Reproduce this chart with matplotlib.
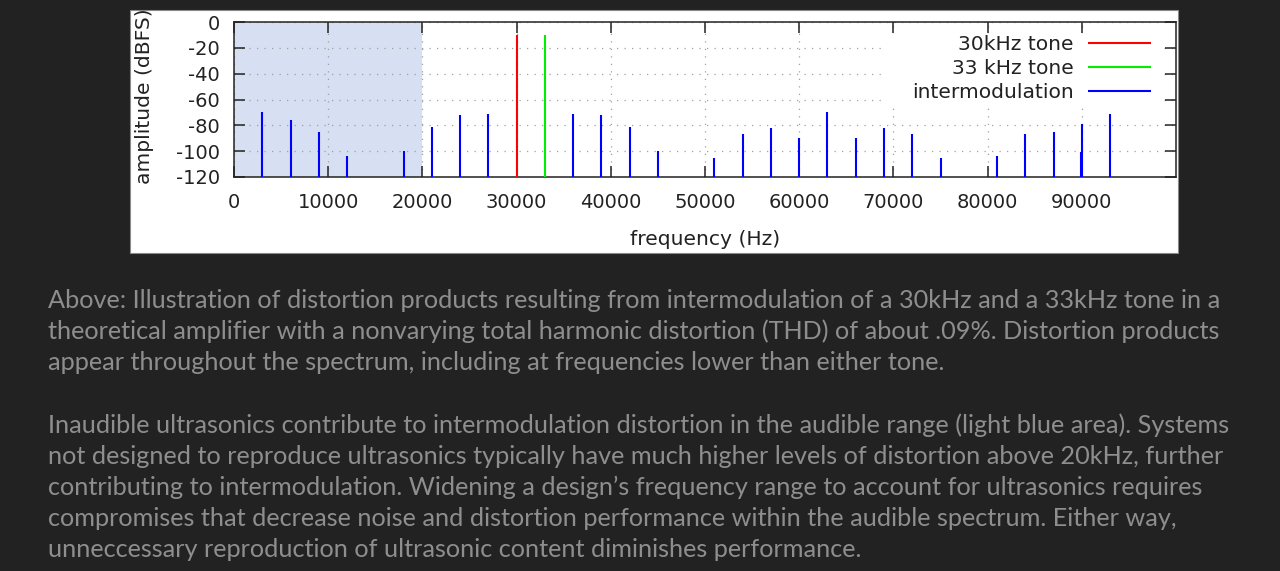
import matplotlib
matplotlib.use("Agg")
import matplotlib.pyplot as plt
from matplotlib.patches import Rectangle
from matplotlib.transforms import Bbox, TransformedBbox

# ---------------- data ----------------
tone1_freq = [30000]
tone1_level = [-10]
tone2_freq = [33000]
tone2_level = [-10]
im_freq = [3000, 6000, 9000, 12000, 18000, 21000, 24000, 27000, 36000, 39000,
           42000, 45000, 51000, 54000, 57000, 60000, 63000, 66000, 69000, 72000,
           75000, 81000, 84000, 87000, 89900, 90000, 93000]
im_level = [-70, -76, -85, -104, -100, -81, -72, -71, -71, -72,
            -81, -100, -105, -87, -82, -90, -70, -90, -82, -87,
            -105, -104, -87, -85, -101, -79, -71]
audible_range = [0, 20000]
x_ticks = [0, 10000, 20000, 30000, 40000, 50000, 60000, 70000, 80000, 90000]
y_ticks = [0, -20, -40, -60, -80, -100, -120]
series_labels = ["30kHz tone", "33 kHz tone", "intermodulation"]

para1 = [
    "Above: Illustration of distortion products resulting from intermodulation of a 30kHz and a 33kHz tone in a",
    "theoretical amplifier with a nonvarying total harmonic distortion (THD) of about .09%. Distortion products",
    "appear throughout the spectrum, including at frequencies lower than either tone.",
]
para2 = [
    "Inaudible ultrasonics contribute to intermodulation distortion in the audible range (light blue area). Systems",
    "not designed to reproduce ultrasonics typically have much higher levels of distortion above 20kHz, further",
    "contributing to intermodulation. Widening a design\u2019s frequency range to account for ultrasonics requires",
    "compromises that decrease noise and distortion performance within the audible spectrum. Either way,",
    "unneccessary reproduction of ultrasonic content diminishes performance.",
]

# ---------------- figure ----------------
W, H = 1280, 571
fig = plt.figure(figsize=(W / 100, H / 100), dpi=100, facecolor="#222222")

def fx(px):
    return px / W

def fy(py):
    return 1 - py / H

# white chart panel
panel_l, panel_t, panel_r, panel_b = 130, 10, 1178, 253
panel = Rectangle((fx(panel_l), fy(panel_b)), fx(panel_r - panel_l), (panel_b - panel_t) / H,
                  transform=fig.transFigure, facecolor="white", edgecolor="#8a8a8a",
                  linewidth=0.8, zorder=-1)
fig.patches.append(panel)

ax_l, ax_t, ax_r, ax_b = 234, 22, 1176, 177
ax = fig.add_axes([fx(ax_l), fy(ax_b), fx(ax_r - ax_l), (ax_b - ax_t) / H])
ax.set_zorder(1)
ax.set_facecolor("white")

ax.axvspan(audible_range[0], audible_range[1], color="#d6e0f2", zorder=0.5, lw=0)

lw = 1.5
ax.vlines(tone1_freq, -120, tone1_level, color="#ff0000", lw=lw, label=series_labels[0], zorder=3)
ax.vlines(tone2_freq, -120, tone2_level, color="#00ee00", lw=lw, label=series_labels[1], zorder=3)
ax.vlines(im_freq, -120, im_level, color="#0000ff", lw=lw, label=series_labels[2], zorder=3)

ax.set_xlim(0, 100000)
ax.set_ylim(-120, 0)
ax.set_xticks(x_ticks)
ax.set_yticks(y_ticks)
ax.set_xticklabels([str(v) for v in x_ticks])
ax.set_yticklabels([str(v) for v in y_ticks])

ax.grid(True, color="#a0a0a0", linestyle=(0, (1, 5)), linewidth=0.9)
ax.tick_params(direction="in", length=8, width=1.1, top=True, right=True,
               labelsize=14, labelcolor="#222222", color="#222222")
ax.tick_params(axis="x", pad=11.5)
ax.tick_params(axis="y", pad=10)
for s in ax.spines.values():
    s.set_color("#222222")
    s.set_linewidth(1.1)

ax.set_xlabel("frequency (Hz)", fontsize=14.6, color="#222222")
ax.xaxis.set_label_coords(0.5, -0.34)
ax.set_ylabel("amplitude (dBFS)", fontsize=14.6, color="#222222")
ax.yaxis.set_label_coords(-0.085, 0.519)
ax.yaxis.label.set_clip_box(TransformedBbox(
    Bbox([[fx(panel_l), fy(panel_b)], [fx(panel_r), fy(panel_t)]]), fig.transFigure))
ax.yaxis.label.set_clip_on(True)

# white background behind legend (hides grid like the original)
ax.add_patch(Rectangle((0.690, 0.477), 0.985 - 0.690, 0.9226 - 0.477, transform=ax.transAxes,
                       facecolor="white", edgecolor="none", zorder=2.6))

leg = ax.legend(loc="upper right", bbox_to_anchor=(0.9735, 0.915), borderaxespad=0,
                borderpad=0, frameon=False, markerfirst=False, fontsize=14.6,
                handlelength=3.1, handletextpad=0.7, labelspacing=0.24, labelcolor="#222222")
leg.set_zorder(6)

# ---------------- caption ----------------
txt_kw = dict(fontsize=18.2, color="#8e8e8e", family=["Lato", "DejaVu Sans"], va="baseline", ha="left")
for i, line in enumerate(para1):
    fig.text(fx(48), fy(308 + 31 * i), line, **txt_kw)
for i, line in enumerate(para2):
    fig.text(fx(48), fy(433 + 31 * i), line, **txt_kw)

fig.savefig("out.png", dpi=100, facecolor=fig.get_facecolor())
